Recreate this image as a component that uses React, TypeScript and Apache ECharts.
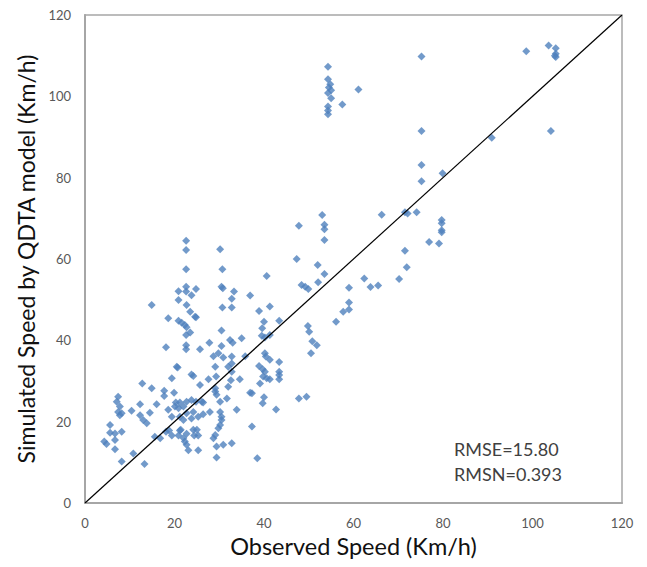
import React, { useEffect, useRef } from "react";
import * as echarts from "echarts";

const xTicks = [0, 20, 40, 60, 80, 100, 120];
const yTicks = [0, 20, 40, 60, 80, 100, 120];
const xTitle = "Observed Speed (Km/h)";
const yTitle = "Simulated Speed by QDTA model (Km/h)";
const statLines = ["RMSE=15.80", "RMSN=0.393"];

// [observed, simulated]
const highPoints: number[][] = [
  [54.3, 107.3], [54.3, 104.2], [54.8, 103.0], [54.5, 102.2], [55.0, 101.5], [54.3, 100.8],
  [55.0, 99.5], [54.3, 97.5], [54.3, 96.5], [54.3, 95.6], [57.5, 98.0], [61.1, 101.7],
  [75.2, 109.8], [75.2, 91.5], [75.2, 83.1], [75.2, 79.1], [79.9, 81.1], [90.9, 89.8],
  [98.6, 111.1], [103.6, 112.5], [105.2, 111.8], [105.2, 110.5], [105.0, 110.0], [105.2, 109.7],
  [104.1, 91.5],
];

const midPoints: number[][] = [
  [53.0, 70.8], [47.8, 68.2], [53.5, 68.4], [53.5, 67.3], [53.5, 64.7], [66.3, 70.9],
  [71.5, 71.5], [72.1, 71.2], [74.1, 71.5], [79.7, 69.6], [79.7, 68.8], [79.7, 67.1],
  [79.7, 66.6], [76.9, 64.2], [79.1, 63.8], [71.5, 62.0], [71.9, 58.0], [70.2, 55.1],
  [47.3, 60.0], [52.0, 58.5], [53.5, 56.3], [52.1, 54.3], [48.4, 53.6], [49.2, 53.2],
  [49.9, 52.6], [62.4, 55.2], [63.8, 53.1], [65.5, 53.5], [59.0, 52.9], [59.0, 49.3],
  [59.0, 47.6], [57.7, 47.0], [56.1, 44.6], [41.3, 48.3], [43.4, 44.8], [41.3, 41.3],
  [49.8, 43.5], [50.1, 42.1], [50.8, 39.8], [51.8, 38.8], [50.5, 36.8], [43.4, 34.7],
  [43.4, 32.3], [43.4, 31.5], [43.4, 30.4], [41.3, 35.2], [41.3, 30.4], [47.8, 25.7],
  [49.5, 26.1], [42.7, 23.0],
];

const band40Points: number[][] = [
  [40.6, 55.8], [36.9, 51.0], [38.9, 47.2], [40.0, 44.6], [39.6, 43.0], [39.5, 41.1],
  [40.2, 40.7], [40.2, 36.8], [40.4, 36.0], [38.9, 33.7], [39.7, 32.9], [40.2, 32.3],
  [39.8, 31.1], [40.6, 30.7], [39.1, 29.4], [37.3, 27.0], [40.0, 26.0], [39.7, 24.5],
  [37.3, 18.8], [38.5, 11.0],
];

const upperDensePoints: number[][] = [
  [22.6, 64.5], [22.6, 62.2], [22.6, 57.5], [30.2, 62.4], [30.7, 57.5], [20.9, 52.1],
  [22.6, 53.2], [22.6, 52.0], [23.8, 51.1], [24.8, 52.6], [20.9, 49.9], [30.5, 53.2],
  [30.8, 52.8], [33.3, 52.0], [32.8, 50.2], [32.8, 48.1], [30.7, 48.1], [14.9, 48.7],
  [18.6, 45.4], [20.9, 44.8], [21.6, 44.3], [22.7, 43.2], [24.8, 45.7], [22.6, 41.3],
  [23.5, 41.9], [30.5, 42.4], [22.7, 48.7], [23.5, 47.0], [24.6, 45.8], [22.3, 43.8],
  [35.0, 40.5], [32.4, 40.1], [33.0, 39.4],
];

const midDensePoints: number[][] = [
  [18.1, 38.3], [22.6, 38.8], [22.6, 37.8], [25.7, 37.8], [27.8, 39.4], [30.5, 38.6],
  [28.7, 36.1], [29.8, 36.8], [30.9, 35.8], [32.8, 36.0], [35.8, 36.1], [29.1, 33.5],
  [32.0, 33.5], [32.8, 32.3], [20.5, 33.5], [23.8, 31.6], [24.2, 31.2], [19.4, 30.7],
  [27.6, 30.4], [29.3, 31.1], [32.6, 30.2], [34.6, 30.4], [32.8, 34.3], [20.7, 33.3],
];

const lowDensePoints: number[][] = [
  [25.7, 29.0], [32.0, 28.6], [29.1, 27.4], [29.4, 26.6], [31.7, 25.7], [17.7, 27.6],
  [17.7, 26.3], [19.9, 27.1], [36.9, 27.1], [20.3, 24.7], [21.2, 24.7], [20.1, 23.7],
  [20.9, 23.3], [22.0, 23.7], [22.7, 24.9], [23.8, 25.3], [24.8, 24.9], [26.1, 24.9],
  [26.4, 24.7], [30.2, 24.9], [18.6, 22.9], [19.4, 21.2], [21.2, 21.2], [22.0, 20.4],
  [22.7, 22.1], [24.2, 22.4], [23.8, 20.8], [25.3, 21.2], [27.9, 22.4], [26.4, 21.8],
  [30.2, 22.4], [30.5, 21.2], [30.5, 20.4], [33.9, 22.9], [29.1, 28.2],
];

const bottomPoints: number[][] = [
  [30.2, 19.2], [29.8, 18.4], [18.1, 17.5], [18.8, 17.8], [19.4, 16.6], [21.2, 17.8],
  [21.4, 18.0], [20.9, 16.6], [22.0, 16.0], [22.7, 17.0], [24.2, 18.0], [24.4, 16.6],
  [25.0, 18.0], [25.3, 16.6], [22.3, 15.1], [22.7, 14.3], [28.7, 15.9], [29.1, 16.7],
  [29.4, 13.9], [30.9, 14.3], [23.1, 13.0], [25.3, 13.0], [32.8, 14.7], [29.4, 11.2],
];

const lowXPoints: number[][] = [
  [12.8, 29.4], [14.9, 28.2], [7.4, 26.1], [7.1, 24.9], [7.8, 23.7], [7.4, 22.4],
  [8.2, 22.1], [7.8, 21.6], [10.4, 22.7], [12.3, 24.3], [12.3, 21.6], [13.0, 20.4],
  [13.8, 19.6], [14.5, 22.2], [16.0, 24.3], [5.6, 19.2], [5.6, 17.3], [6.7, 17.1],
  [8.2, 17.5], [6.7, 15.5], [4.3, 15.1], [4.8, 14.5], [6.7, 13.2], [8.2, 10.2],
  [10.8, 12.2], [13.3, 9.6], [15.6, 16.3], [16.8, 15.9],
];

const identityLine: number[][] = [[0, 0], [120, 120]];

const allPoints = [
  ...highPoints, ...midPoints, ...band40Points, ...upperDensePoints,
  ...midDensePoints, ...lowDensePoints, ...bottomPoints, ...lowXPoints,
];

const FONT = "Lato, 'Open Sans', sans-serif";
const GRAY = "#a6a6a6";

export default function App() {
  const ref = useRef<HTMLDivElement>(null);
  useEffect(() => {
    if (!ref.current) return;
    const chart = echarts.init(ref.current, null, { renderer: "svg" });
    chart.setOption({
      animation: false,
      backgroundColor: "#ffffff",
      textStyle: { fontFamily: FONT },
      grid: {
        left: 85, top: 15, right: 25, bottom: 64,
        show: true, borderColor: GRAY, borderWidth: 1.5, backgroundColor: "transparent",
      },
      xAxis: {
        type: "value", min: xTicks[0], max: xTicks[xTicks.length - 1], interval: 20,
        name: xTitle, nameLocation: "middle", nameGap: 30,
        nameTextStyle: { fontSize: 23.5, color: "#111", fontFamily: FONT },
        axisLine: { lineStyle: { color: GRAY, width: 2 } },
        axisTick: { show: false },
        splitLine: { show: false },
        axisLabel: { fontSize: 13, color: "#595959", margin: 13, fontFamily: FONT },
      },
      yAxis: {
        type: "value", min: yTicks[0], max: yTicks[yTicks.length - 1], interval: 20,
        name: yTitle, nameLocation: "middle", nameGap: 43,
        nameTextStyle: { fontSize: 23, color: "#111", fontFamily: FONT },
        axisLine: { show: true, lineStyle: { color: GRAY, width: 2 } },
        axisTick: { show: false },
        splitLine: { show: false },
        axisLabel: { fontSize: 13, color: "#595959", margin: 14, fontFamily: FONT },
      },
      series: [
        {
          type: "scatter", data: allPoints, symbol: "diamond", symbolSize: 8,
          itemStyle: { color: "#4f81bd" }, z: 3,
        },
        {
          type: "line", data: identityLine, symbol: "none",
          lineStyle: { color: "#000", width: 1.2 }, z: 4,
        },
      ],
      graphic: [
        {
          type: "text", left: 454, top: 436,
          style: { text: statLines.join("\n"), fontSize: 18, lineHeight: 25, fill: "#404040", fontFamily: FONT },
        },
      ],
    });
    return () => chart.dispose();
  }, []);
  return <div ref={ref} style={{ position: "fixed", left: 0, top: 0, width: 647, height: 567 }} />;
}
